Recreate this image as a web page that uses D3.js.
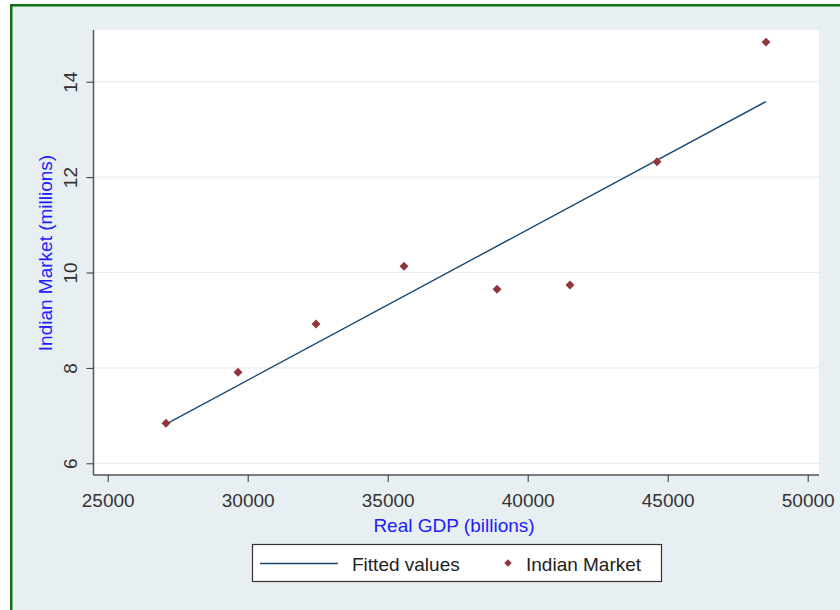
<!DOCTYPE html>
<html>
<head>
<meta charset="utf-8">
<script src="https://cdn.jsdelivr.net/npm/d3@7"></script>
<style>
  html, body { margin: 0; padding: 0; background: #ffffff; }
  svg { display: block; font-family: "Liberation Sans", Arial, sans-serif; }
</style>
</head>
<body>
<svg id="chart" width="840" height="610"></svg>
<script>
// ---- data ----
const gdp    = [27082, 29654, 32439, 35582, 38904, 41511, 44618, 48511]; // Real GDP (billions)
const market = [6.84, 7.91, 8.92, 10.13, 9.65, 9.74, 12.32, 14.83];     // Indian Market (millions)
const xTicks = [25000, 30000, 35000, 40000, 45000, 50000];
const yTicks = [6, 8, 10, 12, 14];
const seriesNames = ["Fitted values", "Indian Market"];

const svg = d3.select("#chart");

// outer graph region with green frame
svg.append("rect")
  .attr("x", 11.25).attr("y", 5.25).attr("width", 900).attr("height", 700)
  .attr("fill", "#e8eff2").attr("stroke", "#11700f").attr("stroke-width", 2.5);

const x = d3.scaleLinear().domain([25000, 50000]).range([107.7, 807.7]);
const y = d3.scaleLinear().domain([6, 14]).range([463.3, 81.7]);

const plot = { left: 93.5, right: 819, top: 30, bottom: 475 };

// plot region
svg.append("rect")
  .attr("x", plot.left).attr("y", plot.top)
  .attr("width", plot.right - plot.left).attr("height", plot.bottom - plot.top)
  .attr("fill", "#ffffff");

// gridlines
svg.append("g").selectAll("line").data(yTicks).join("line")
  .attr("x1", plot.left).attr("x2", plot.right)
  .attr("y1", d => y(d)).attr("y2", d => y(d))
  .attr("stroke", "#e6eef1").attr("stroke-width", 1.2);

// y axis
const yAxis = svg.append("g")
  .attr("transform", `translate(${plot.left},0)`)
  .call(d3.axisLeft(y).tickValues(yTicks).tickSize(7).tickPadding(0).tickFormat(d3.format("d")));
yAxis.select(".domain").attr("d", `M0,${plot.top}V${plot.bottom}`).attr("stroke", "#555").attr("stroke-width", 1.5);
yAxis.selectAll(".tick line").attr("stroke", "#333").attr("stroke-width", 1);
yAxis.selectAll(".tick text")
  .attr("x", null).attr("dy", null)
  .attr("transform", "translate(-17,0) rotate(-90)")
  .attr("text-anchor", "middle")
  .attr("font-size", 19).attr("fill", "#333")
  .attr("font-family", "Liberation Sans, Arial, sans-serif");

// x axis
const xAxis = svg.append("g")
  .attr("transform", `translate(0,${plot.bottom})`)
  .call(d3.axisBottom(x).tickValues(xTicks).tickSize(7).tickFormat(d3.format("d")));
xAxis.select(".domain").attr("d", `M${plot.left},0H${plot.right}`).attr("stroke", "#555").attr("stroke-width", 1.5);
xAxis.selectAll(".tick line").attr("stroke", "#333").attr("stroke-width", 1);
xAxis.selectAll(".tick text")
  .attr("y", 32).attr("dy", null)
  .attr("font-size", 19).attr("fill", "#333")
  .attr("font-family", "Liberation Sans, Arial, sans-serif");

// axis titles
svg.append("text")
  .attr("transform", "translate(52,253) rotate(-90)")
  .attr("text-anchor", "middle").attr("font-size", 19).attr("fill", "#2020ff")
  .text("Indian Market (millions)");
svg.append("text")
  .attr("x", 454).attr("y", 532)
  .attr("text-anchor", "middle").attr("font-size", 19).attr("fill", "#2020ff")
  .text("Real GDP (billions)");

// fitted values: OLS from the data
const n = gdp.length;
const mx = d3.mean(gdp), my = d3.mean(market);
const sxy = d3.sum(gdp.map((g, i) => (g - mx) * (market[i] - my)));
const sxx = d3.sum(gdp.map(g => (g - mx) ** 2));
const slope = sxy / sxx, intercept = my - slope * mx;
const fitX = d3.extent(gdp);
const fitted = fitX.map(g => [g, intercept + slope * g]);

svg.append("path")
  .datum(fitted)
  .attr("fill", "none").attr("stroke", "#1a476f").attr("stroke-width", 1.4)
  .attr("d", d3.line().x(d => x(d[0])).y(d => y(d[1])));

// markers
const diamond = d3.symbol().type(d3.symbolSquare).size(40);
svg.append("g").selectAll("path").data(gdp.map((g, i) => [g, market[i]])).join("path")
  .attr("d", diamond)
  .attr("transform", d => `translate(${x(d[0])},${y(d[1])}) rotate(45)`)
  .attr("fill", "#90353b");

// legend
const lg = svg.append("g");
lg.append("rect").attr("x", 252.5).attr("y", 544.5).attr("width", 409).attr("height", 37)
  .attr("fill", "#ffffff").attr("stroke", "#333").attr("stroke-width", 1.2);
lg.append("line").attr("x1", 260).attr("x2", 338).attr("y1", 563.5).attr("y2", 563.5)
  .attr("stroke", "#1a476f").attr("stroke-width", 1.4);
lg.append("text").attr("x", 352).attr("y", 571).attr("font-size", 19).attr("fill", "#222")
  .text(seriesNames[0]);
lg.append("path").attr("d", d3.symbol().type(d3.symbolSquare).size(28))
  .attr("transform", "translate(508,563) rotate(45)").attr("fill", "#90353b");
lg.append("text").attr("x", 526).attr("y", 571).attr("font-size", 19).attr("fill", "#222")
  .text(seriesNames[1]);
</script>
</body>
</html>
